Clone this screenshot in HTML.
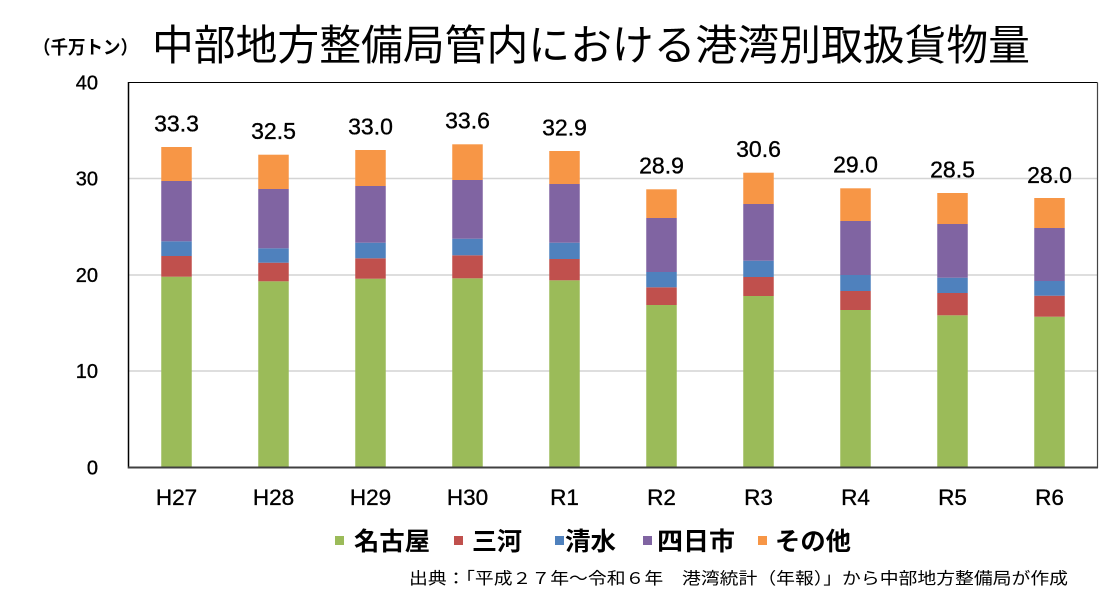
<!DOCTYPE html>
<html><head><meta charset="utf-8"><style>
html,body{margin:0;padding:0;background:#fff;}
svg{display:block;}
.t{font-family:"Liberation Sans","Noto Sans CJK JP",sans-serif;}
.j{font-family:"Liberation Sans","Noto Sans CJK JP",sans-serif;}
</style></head><body>
<svg width="1118" height="598" viewBox="0 0 1118 598" xmlns="http://www.w3.org/2000/svg">
<rect width="1118" height="598" fill="#fff"/>
<!-- title -->
<text class="j" x="33" y="54" font-size="18.5" font-weight="bold" textLength="105" lengthAdjust="spacingAndGlyphs">（千万トン）</text>
<text class="j" x="152" y="60" font-size="42" textLength="878" lengthAdjust="spacingAndGlyphs">中部地方整備局管内における港湾別取扱貨物量</text>
<!-- gridlines -->
<g stroke="#d4d4d4" stroke-width="1.5">
<line x1="129" y1="371" x2="1097" y2="371"/>
<line x1="129" y1="275" x2="1097" y2="275"/>
<line x1="129" y1="178.5" x2="1097" y2="178.5"/>
</g>
<!-- plot border -->
<line x1="128.5" y1="82.5" x2="1097.5" y2="82.5" stroke="#000" stroke-width="1"/>
<line x1="1097.5" y1="82.5" x2="1097.5" y2="468" stroke="#444" stroke-width="1.2"/>
<!-- bars -->
<g id="bars">
<!-- H27 -->
<rect x="161.25" y="276.7" width="30.5" height="190.8" fill="#9BBB59"/>
<rect x="161.25" y="256" width="30.5" height="20.7" fill="#C0504D"/>
<rect x="161.25" y="241.3" width="30.5" height="14.7" fill="#4F81BD"/>
<rect x="161.25" y="181" width="30.5" height="60.3" fill="#8064A2"/>
<rect x="161.25" y="147" width="30.5" height="34" fill="#F79646"/>
<!-- H28 -->
<rect x="258.25" y="281.3" width="30.5" height="186.2" fill="#9BBB59"/>
<rect x="258.25" y="262.7" width="30.5" height="18.6" fill="#C0504D"/>
<rect x="258.25" y="248.3" width="30.5" height="14.4" fill="#4F81BD"/>
<rect x="258.25" y="189" width="30.5" height="59.3" fill="#8064A2"/>
<rect x="258.25" y="154.7" width="30.5" height="34.3" fill="#F79646"/>
<!-- H29 -->
<rect x="355.25" y="278.7" width="30.5" height="188.8" fill="#9BBB59"/>
<rect x="355.25" y="258.3" width="30.5" height="20.4" fill="#C0504D"/>
<rect x="355.25" y="242.7" width="30.5" height="15.6" fill="#4F81BD"/>
<rect x="355.25" y="186" width="30.5" height="56.7" fill="#8064A2"/>
<rect x="355.25" y="150" width="30.5" height="36" fill="#F79646"/>
<!-- H30 -->
<rect x="452.25" y="278.3" width="30.5" height="189.2" fill="#9BBB59"/>
<rect x="452.25" y="255.3" width="30.5" height="23" fill="#C0504D"/>
<rect x="452.25" y="238.7" width="30.5" height="16.6" fill="#4F81BD"/>
<rect x="452.25" y="180" width="30.5" height="58.7" fill="#8064A2"/>
<rect x="452.25" y="144.3" width="30.5" height="35.7" fill="#F79646"/>
<!-- R1 -->
<rect x="549.25" y="280.3" width="30.5" height="187.2" fill="#9BBB59"/>
<rect x="549.25" y="259" width="30.5" height="21.3" fill="#C0504D"/>
<rect x="549.25" y="242.7" width="30.5" height="16.3" fill="#4F81BD"/>
<rect x="549.25" y="184" width="30.5" height="58.7" fill="#8064A2"/>
<rect x="549.25" y="151" width="30.5" height="33" fill="#F79646"/>
<!-- R2 -->
<rect x="646.25" y="305" width="30.5" height="162.5" fill="#9BBB59"/>
<rect x="646.25" y="287.3" width="30.5" height="17.7" fill="#C0504D"/>
<rect x="646.25" y="272" width="30.5" height="15.3" fill="#4F81BD"/>
<rect x="646.25" y="218" width="30.5" height="54" fill="#8064A2"/>
<rect x="646.25" y="189.3" width="30.5" height="28.7" fill="#F79646"/>
<!-- R3 -->
<rect x="743.25" y="296" width="30.5" height="171.5" fill="#9BBB59"/>
<rect x="743.25" y="277" width="30.5" height="19" fill="#C0504D"/>
<rect x="743.25" y="260.7" width="30.5" height="16.3" fill="#4F81BD"/>
<rect x="743.25" y="204" width="30.5" height="56.7" fill="#8064A2"/>
<rect x="743.25" y="172.7" width="30.5" height="31.3" fill="#F79646"/>
<!-- R4 -->
<rect x="840.25" y="310" width="30.5" height="157.5" fill="#9BBB59"/>
<rect x="840.25" y="291" width="30.5" height="19" fill="#C0504D"/>
<rect x="840.25" y="275" width="30.5" height="16" fill="#4F81BD"/>
<rect x="840.25" y="221" width="30.5" height="54" fill="#8064A2"/>
<rect x="840.25" y="188.3" width="30.5" height="32.7" fill="#F79646"/>
<!-- R5 -->
<rect x="937.25" y="315.3" width="30.5" height="152.2" fill="#9BBB59"/>
<rect x="937.25" y="293" width="30.5" height="22.3" fill="#C0504D"/>
<rect x="937.25" y="277.7" width="30.5" height="15.3" fill="#4F81BD"/>
<rect x="937.25" y="224" width="30.5" height="53.7" fill="#8064A2"/>
<rect x="937.25" y="193" width="30.5" height="31" fill="#F79646"/>
<!-- R6 -->
<rect x="1034.25" y="316.7" width="30.5" height="150.8" fill="#9BBB59"/>
<rect x="1034.25" y="295.7" width="30.5" height="21" fill="#C0504D"/>
<rect x="1034.25" y="281" width="30.5" height="14.7" fill="#4F81BD"/>
<rect x="1034.25" y="228" width="30.5" height="53" fill="#8064A2"/>
<rect x="1034.25" y="198" width="30.5" height="30" fill="#F79646"/>
</g>
<!-- axes -->
<line x1="128.5" y1="82" x2="128.5" y2="468.5" stroke="#000" stroke-width="1.5"/>
<line x1="128" y1="467.5" x2="1098" y2="467.5" stroke="#404040" stroke-width="2"/>
<!-- y tick labels -->
<g class="t" font-size="20" text-anchor="end" fill="#000" stroke="#000" stroke-width="0.35">
<text x="98" y="89.5">40</text>
<text x="98" y="185.5">30</text>
<text x="98" y="282">20</text>
<text x="98" y="378">10</text>
<text x="98" y="474.5">0</text>
</g>
<!-- value labels -->
<g class="t" font-size="23" text-anchor="middle" fill="#000" stroke="#000" stroke-width="0.35">
<text x="176.5" y="131.5">33.3</text>
<text x="273.5" y="139">32.5</text>
<text x="370.5" y="134.5">33.0</text>
<text x="467.5" y="128.5">33.6</text>
<text x="564.5" y="135.5">32.9</text>
<text x="661.5" y="173.5">28.9</text>
<text x="758.5" y="157">30.6</text>
<text x="855.5" y="172.5">29.0</text>
<text x="952.5" y="177.5">28.5</text>
<text x="1049.5" y="183">28.0</text>
</g>
<!-- x labels -->
<g class="t" font-size="22.5" text-anchor="middle" fill="#000" stroke="#000" stroke-width="0.35">
<text x="176.5" y="505">H27</text>
<text x="273.5" y="505">H28</text>
<text x="370.5" y="505">H29</text>
<text x="467.5" y="505">H30</text>
<text x="564.5" y="505">R1</text>
<text x="661.5" y="505">R2</text>
<text x="758.5" y="505">R3</text>
<text x="855.5" y="505">R4</text>
<text x="952.5" y="505">R5</text>
<text x="1049.5" y="505">R6</text>
</g>
<!-- legend -->
<rect x="335" y="536" width="9" height="9" fill="#9BBB59"/>
<rect x="454" y="536" width="9" height="9" fill="#C0504D"/>
<rect x="555" y="536" width="9" height="9" fill="#4F81BD"/>
<rect x="643" y="536" width="9" height="9" fill="#8064A2"/>
<rect x="758" y="536" width="9" height="9" fill="#F79646"/>
<g class="j" font-size="25" font-weight="bold" fill="#000">
<text x="354" y="550" textLength="76" lengthAdjust="spacingAndGlyphs">名古屋</text>
<text x="472" y="550" textLength="50" lengthAdjust="spacingAndGlyphs">三河</text>
<text x="565" y="550" textLength="51" lengthAdjust="spacingAndGlyphs">清水</text>
<text x="657" y="550" textLength="78" lengthAdjust="spacingAndGlyphs">四日市</text>
<text x="775" y="550" textLength="76" lengthAdjust="spacingAndGlyphs">その他</text>
</g>
<!-- source -->
<text class="j" x="409" y="584" font-size="16.5" fill="#000" textLength="659" lengthAdjust="spacingAndGlyphs">出典：「平成２７年～令和６年　港湾統計（年報）」から中部地方整備局が作成</text>
</svg>
</body></html>
